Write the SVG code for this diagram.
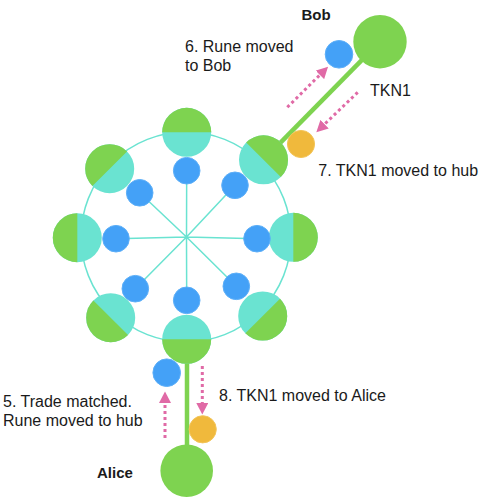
<svg xmlns="http://www.w3.org/2000/svg" width="488" height="500" viewBox="0 0 488 500">
<style>
.g{fill:#7ED350}
.t{fill:#6AE3D1}
.b{fill:#44A1F7;stroke:#5DAFF8;stroke-width:1}
.o{fill:#F0B93C;stroke:#F3C55A;stroke-width:1}
.hubline{stroke:#6AE3D1;stroke-width:1.5;fill:none}
.link{stroke:#7ED350;stroke-width:4.5;fill:none}
.arrow{stroke:#E06AA6;stroke-width:3;stroke-dasharray:3 3;fill:none;marker-end:url(#ah)}
text{font-family:"Liberation Sans",Arial,sans-serif;font-size:16px;fill:#1a1a1a}
.bold{font-weight:bold;font-size:15px}
</style>
<defs>
<marker id="ah" markerUnits="userSpaceOnUse" markerWidth="12" markerHeight="12" refX="0" refY="6" orient="auto" viewBox="0 0 12 12">
<path d="M0,0 L11.5,6 L0,12 z" fill="#E06AA6"/>
</marker>
<g id="split">
<circle r="24.5" class="t"/>
<path d="M-24.5,0 A24.5,24.5 0 0 1 24.5,0 z" class="g"/>
</g>
</defs>
<g id="hub">
<circle cx="186" cy="237" r="105" class="hubline"/>
<path class="hubline" d="M186.5,237L186.7,170.7M186.5,237L235,185.3M186.5,237L257,238.7M186.5,237L236.3,286.3M186.5,237L186.7,300.3M186.5,237L135.3,288.7M186.5,237L116,238.7M186.5,237L139.7,192.8"/>
</g>
<g id="connectors">
<line class="link" x1="380" y1="41.7" x2="263.5" y2="159.8"/>
<line class="link" x1="187" y1="339.3" x2="187" y2="470.7"/>
<line class="arrow" x1="287.3" y1="107.3" x2="319.9" y2="74.9"/>
<line class="arrow" x1="357.7" y1="92.3" x2="324.6" y2="124.2"/>
<line class="arrow" x1="165" y1="438" x2="165" y2="403"/>
<line class="arrow" x1="202.3" y1="366" x2="202.3" y2="403"/>
</g>
<g id="node-top"><use href="#split" transform="translate(186.7,132.3)"/></g>
<g id="node-top-right"><use href="#split" transform="translate(263.5,159.8) rotate(45)"/></g>
<g id="node-right"><use href="#split" transform="translate(293.3,237.3) rotate(90)"/></g>
<g id="node-bottom-right"><use href="#split" transform="translate(262.7,316) rotate(135)"/></g>
<g id="node-bottom"><use href="#split" transform="translate(186.7,339.3) rotate(180)"/></g>
<g id="node-bottom-left"><use href="#split" transform="translate(110.7,317.7) rotate(225)"/></g>
<g id="node-left"><use href="#split" transform="translate(77.3,237.7) rotate(270)"/></g>
<g id="node-top-left"><use href="#split" transform="translate(109.7,168.7) rotate(315)"/></g>
<g id="rune-top"><circle cx="186.7" cy="170.7" r="13.3" class="b"/></g>
<g id="rune-top-right"><circle cx="235" cy="185.3" r="13.3" class="b"/></g>
<g id="rune-right"><circle cx="257" cy="238.7" r="13.3" class="b"/></g>
<g id="rune-bottom-right"><circle cx="236.3" cy="286.3" r="13.3" class="b"/></g>
<g id="rune-bottom"><circle cx="186.7" cy="300.3" r="13.3" class="b"/></g>
<g id="rune-bottom-left"><circle cx="135.3" cy="288.7" r="13.3" class="b"/></g>
<g id="rune-left"><circle cx="116" cy="238.7" r="13.3" class="b"/></g>
<g id="rune-top-left"><circle cx="139.7" cy="192.8" r="13.3" class="b"/></g>
<g id="bob"><circle cx="380" cy="41.7" r="26.7" class="g"/><text class="bold" x="301.5" y="20">Bob</text></g>
<g id="bob-rune"><circle cx="339" cy="54.3" r="13.8" class="b"/></g>
<g id="hub-tkn1"><circle cx="301" cy="144" r="13.6" class="o"/></g>
<g id="alice"><circle cx="186.7" cy="470.7" r="26.3" class="g"/><text class="bold" x="97" y="477.7">Alice</text></g>
<g id="alice-rune"><circle cx="166.7" cy="372.7" r="13.8" class="b"/></g>
<g id="alice-tkn1"><circle cx="202.7" cy="429.3" r="13.6" class="o"/></g>
<g id="labels">
<text x="185" y="51.7">6. Rune moved</text>
<text x="185" y="70.7">to Bob</text>
<text x="370" y="95.7">TKN1</text>
<text x="318.3" y="175.7">7. TKN1 moved to hub</text>
<text x="3" y="407.3">5. Trade matched.</text>
<text x="3" y="426.3">Rune moved to hub</text>
<text x="219" y="400.7">8. TKN1 moved to Alice</text>
</g>
</svg>
